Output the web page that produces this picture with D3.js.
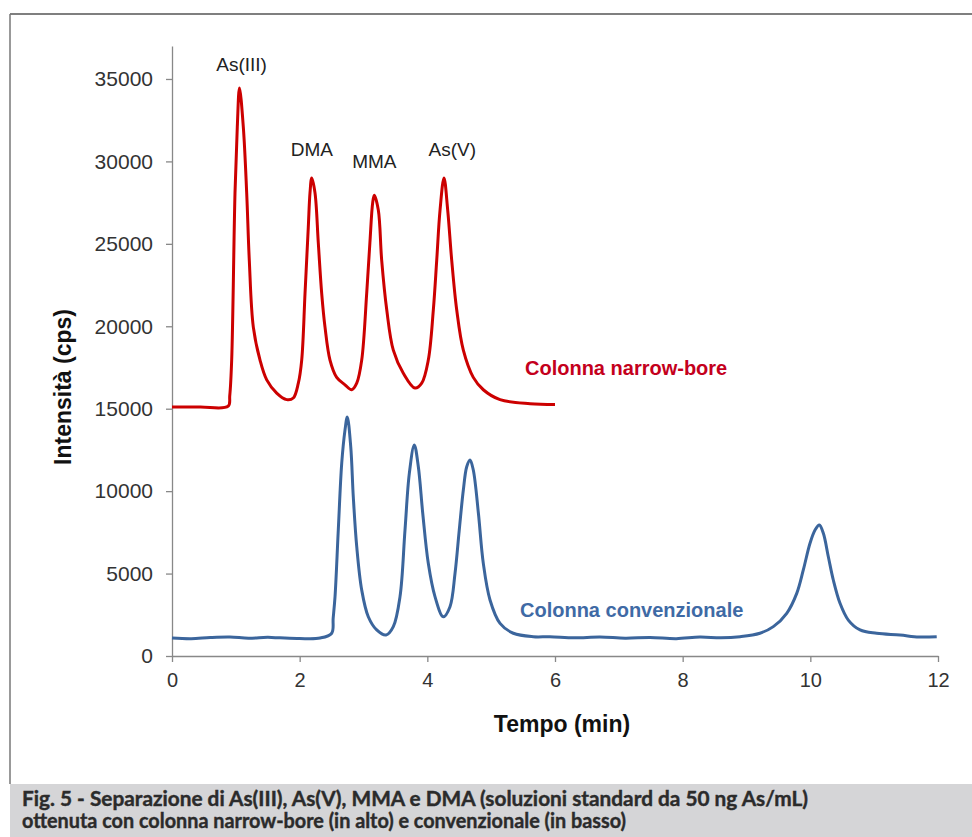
<!DOCTYPE html>
<html lang="it">
<head>
  <meta charset="UTF-8" />
  <title>Fig. 5 - Separazione di As(III), As(V), MMA e DMA</title>
  <script src="https://cdn.jsdelivr.net/npm/d3@7"></script>
  <style>
    html, body {
      margin: 0;
      padding: 0;
      background: #ffffff;
      overflow: hidden;
    }
    svg { display: block; }
  </style>
</head>
<body>
  <script>
    // ------ Data ------
    // narrow-bore column (top, red)
    const redTime = [0, 0.44, 0.88, 0.905, 0.935, 0.987, 1.023, 1.057, 1.117, 1.17, 1.211, 1.274, 1.379, 1.484, 1.64, 1.797,
      1.9, 1.979, 2.032, 2.084, 2.135, 2.162, 2.189, 2.24, 2.292, 2.345, 2.397, 2.475, 2.58, 2.71, 2.815,
      2.894, 2.972, 3.05, 3.1, 3.144, 3.169, 3.232, 3.285, 3.364, 3.467, 3.624, 3.807,
      3.912, 4.015, 4.094, 4.147, 4.199, 4.261, 4.319, 4.382, 4.46, 4.564, 4.72, 4.877, 5.139, 5.609, 6.0];
    const redValue = [15100, 15100, 15150, 15800, 17950, 28100, 32100, 34450, 32100, 28100, 24000, 19950, 17950, 16750, 15950, 15550,
      15650, 16550, 17950, 22000, 26000, 28100, 29000, 28100, 25050, 22000, 19950, 17950, 16900, 16450, 16150,
      16550, 17950, 22000, 25050, 27500, 27950, 27050, 24000, 21000, 18550, 17150, 16250,
      16550, 17950, 21000, 24000, 27050, 29000, 27050, 24000, 21000, 18550, 16900, 16150, 15550, 15300, 15250];

    // conventional column (bottom, blue)
    const blueTime = [0, 0.3, 0.6, 0.909, 1.2, 1.5, 1.69, 2.0, 2.32,
      2.502, 2.525, 2.554, 2.605, 2.659, 2.71, 2.746, 2.8, 2.84, 2.894, 2.972, 3.075, 3.207, 3.353,
      3.467, 3.572, 3.65, 3.718, 3.796, 3.859, 3.928, 4.015, 4.12, 4.25,
      4.355, 4.434, 4.5, 4.564, 4.617, 4.669, 4.72, 4.8, 4.877, 4.982, 5.139, 5.347, 5.66, 5.92,
      6.3, 6.705, 7.1, 7.49, 7.9, 8.27, 8.6, 8.9,
      9.21, 9.42, 9.63, 9.787, 9.89, 9.995, 10.074, 10.141,
      10.204, 10.282, 10.36, 10.465, 10.595, 10.779, 11.04, 11.405, 11.7, 11.98];
    const blueValue = [1090, 1050, 1120, 1150, 1080, 1130, 1100, 1060, 1090,
      1380, 2300, 3600, 7640, 11700, 13700, 14500, 12700, 9660, 6630, 4000, 2380, 1580, 1270,
      1780, 3600, 7640, 11080, 12800, 11480, 8660, 5620, 3600, 2380,
      2990, 5020, 7640, 10070, 11480, 11890, 11280, 8660, 5620, 3400, 1980, 1380, 1170, 1170,
      1100, 1150, 1080, 1120, 1050, 1150, 1100, 1170,
      1380, 1780, 2590, 3800, 5220, 6840, 7640, 7950,
      7440, 6020, 4610, 3200, 2180, 1580, 1380, 1270, 1150, 1170];

    // peak names and where they sit
    const peakNames = ["As(III)", "DMA", "MMA", "As(V)"];
    const peakTime = [1.09, 2.19, 3.17, 4.39];
    const peakLabelValue = [35500, 30300, 29600, 30300];

    const xTicks = [0, 2, 4, 6, 8, 10, 12];
    const yTicks = [0, 5000, 10000, 15000, 20000, 25000, 30000, 35000];

    // ------ Layout ------
    const width = 972, height = 837;
    const x = d3.scaleLinear().domain([0, 12]).range([172, 938]);
    const y = d3.scaleLinear().domain([0, 37000]).range([656, 46]);

    const svg = d3.select("body").append("svg")
      .attr("width", width)
      .attr("height", height);

    // frame: top and left rule, caption band
    svg.append("line")
      .attr("x1", 10).attr("y1", 14).attr("x2", width).attr("y2", 14)
      .attr("stroke", "#555").attr("stroke-width", 1.5);
    svg.append("line")
      .attr("x1", 10).attr("y1", 14).attr("x2", 10).attr("y2", 784)
      .attr("stroke", "#777").attr("stroke-width", 1.5);
    svg.append("rect")
      .attr("x", 10).attr("y", 784).attr("width", width - 10).attr("height", height - 784)
      .attr("fill", "#d5d5d7");

    const caption = [
      "Fig. 5 - Separazione di As(III), As(V), MMA e DMA (soluzioni standard da 50 ng As/mL)",
      "ottenuta con colonna narrow-bore (in alto) e convenzionale (in basso)"
    ];
    const captionWidth = [786, 604];
    svg.append("g").selectAll("text")
      .data(caption)
      .join("text")
      .attr("x", 22)
      .attr("y", (d, i) => 806 + i * 22)
      .attr("textLength", (d, i) => captionWidth[i])
      .attr("lengthAdjust", "spacingAndGlyphs")
      .attr("font-family", "Lato, 'Open Sans', sans-serif")
      .attr("font-weight", "bold")
      .attr("font-size", 20)
      .attr("fill", "#2b2b2b")
      .attr("stroke", "#2b2b2b")
      .attr("stroke-width", 0.4)
      .text(d => d);

    // ------ Axes ------
    const axisFont = "'Liberation Sans', Arial, sans-serif";

    const xAxis = svg.append("g")
      .attr("transform", `translate(0,${y(0)})`)
      .call(d3.axisBottom(x).tickValues(xTicks).tickSize(6).tickPadding(11).tickSizeOuter(0));
    const yAxis = svg.append("g")
      .attr("transform", `translate(${x(0)},0)`)
      .call(d3.axisLeft(y).tickValues(yTicks).tickFormat(d3.format("d"))
        .tickSize(6).tickPadding(13).tickSizeOuter(0));

    [xAxis, yAxis].forEach(g => {
      g.select(".domain").attr("stroke", "#888").attr("stroke-width", 1.3);
      g.selectAll(".tick line").attr("stroke", "#888").attr("stroke-width", 1.3);
      g.selectAll(".tick text")
        .attr("font-family", axisFont)
        .attr("font-size", 20)
        .attr("fill", "#333");
    });
    yAxis.selectAll(".tick text").attr("font-size", 21);

    // axis titles
    svg.append("text")
      .attr("x", 562).attr("y", 732)
      .attr("text-anchor", "middle")
      .attr("font-family", axisFont)
      .attr("font-weight", "bold")
      .attr("font-size", 23)
      .attr("fill", "#111")
      .text("Tempo (min)");
    svg.append("text")
      .attr("transform", "translate(71,387) rotate(-90)")
      .attr("text-anchor", "middle")
      .attr("font-family", axisFont)
      .attr("font-weight", "bold")
      .attr("font-size", 23)
      .attr("fill", "#111")
      .text("Intensità (cps)");

    // ------ Traces ------
    const line = d3.line()
      .x(d => x(d[0]))
      .y(d => y(d[1]))
      .curve(d3.curveCatmullRom.alpha(0.5));

    const redData = d3.zip(redTime, redValue);
    const blueData = d3.zip(blueTime, blueValue);

    svg.append("path")
      .datum(blueData)
      .attr("fill", "none")
      .attr("stroke", "#3b659c")
      .attr("stroke-width", 3)
      .attr("stroke-linejoin", "round")
      .attr("d", line);

    svg.append("path")
      .datum(redData)
      .attr("fill", "none")
      .attr("stroke", "#cc0000")
      .attr("stroke-width", 3)
      .attr("stroke-linejoin", "round")
      .attr("d", line);

    // peak labels
    svg.append("g").selectAll("text")
      .data(peakNames)
      .join("text")
      .attr("x", (d, i) => x(peakTime[i]))
      .attr("y", (d, i) => y(peakLabelValue[i]))
      .attr("text-anchor", "middle")
      .attr("font-family", axisFont)
      .attr("font-size", 19)
      .attr("fill", "#222")
      .text(d => d);

    // series labels
    svg.append("text")
      .attr("x", 525).attr("y", 375)
      .attr("font-family", axisFont)
      .attr("font-weight", "bold")
      .attr("font-size", 20)
      .attr("fill", "#c4001c")
      .text("Colonna narrow-bore");
    svg.append("text")
      .attr("x", 520).attr("y", 617)
      .attr("font-family", axisFont)
      .attr("font-weight", "bold")
      .attr("font-size", 20)
      .attr("fill", "#3f6aa5")
      .text("Colonna convenzionale");
  </script>
</body>
</html>
